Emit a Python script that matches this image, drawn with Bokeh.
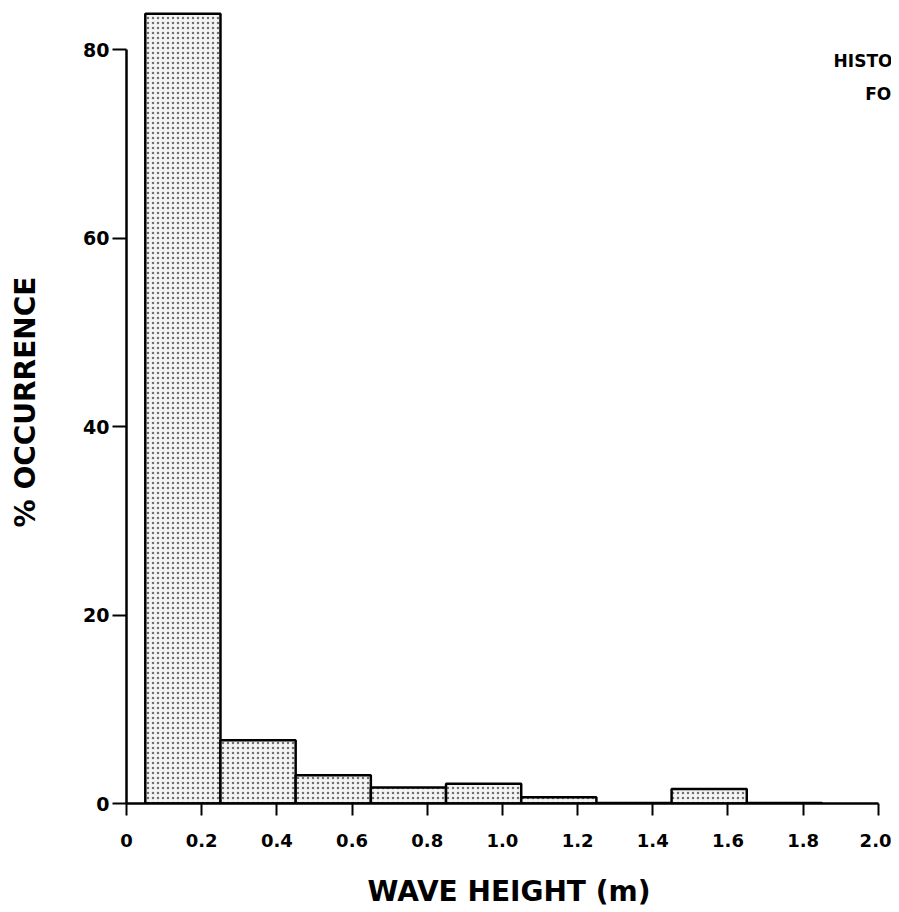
from bokeh.plotting import figure
from bokeh.models import Range1d, FixedTicker
from bokeh.core.properties import value
from bokeh.embed import file_html
from bokeh.resources import INLINE

# ---- data ----
bin_left = [0.05, 0.25, 0.45, 0.65, 0.85, 1.05, 1.25, 1.45, 1.65]
bin_right = [0.25, 0.45, 0.65, 0.85, 1.05, 1.25, 1.45, 1.65, 1.85]
pct_occurrence = [83.8, 6.7, 3.0, 1.7, 2.1, 0.65, 0.05, 1.55, 0.05]

x_ticks = [0, 0.2, 0.4, 0.6, 0.8, 1.0, 1.2, 1.4, 1.6, 1.8, 2.0]
x_tick_labels = ["0", "0.2", "0.4", "0.6", "0.8", "1.0", "1.2", "1.4", "1.6", "1.8", "2.0"]
y_ticks = [0, 20, 40, 60, 80]
y_tick_labels = ["0", "20", "40", "60", "80"]

# visible parts of the (cut-off) annotation in the reference
title_lines = ["HISTO", "FO"]

FONT = "DejaVu Sans"

p = figure(
    width=891, height=910,
    output_backend="svg", toolbar_location=None,
    x_range=Range1d(0, 2.035), y_range=Range1d(0, 85.2),
    min_border_left=126, min_border_right=0, min_border_top=0, min_border_bottom=107,
)
p.outline_line_color = None
p.xgrid.visible = False
p.ygrid.visible = False
p.background_fill_color = "white"
p.border_fill_color = "white"

p.quad(
    left=bin_left, right=bin_right, top=pct_occurrence, bottom=0,
    fill_color="#f4f4f4", line_color="black", line_width=2.5,
    hatch_pattern="dot", hatch_color="#707070", hatch_scale=5, hatch_weight=1,
)

# annotation text
p.text(x=[1.881], y=[78.8], text=[title_lines[0]], text_font=value(FONT),
       text_font_style="bold", text_font_size="17px", text_align="left",
       text_baseline="middle", text_color="black")
p.text(x=[1.965], y=[75.3], text=[title_lines[1]], text_font=value(FONT),
       text_font_style="bold", text_font_size="17px", text_align="left",
       text_baseline="middle", text_color="black")

# x axis
xa = p.xaxis[0]
xa.bounds = (0, 2.0)
xa.ticker = FixedTicker(ticks=x_ticks)
xa.major_label_overrides = {t: l for t, l in zip(x_ticks, x_tick_labels)}
xa.minor_tick_line_color = None
xa.major_tick_in = 0
xa.major_tick_out = 12
xa.major_tick_line_width = 2
xa.axis_line_width = 2.5
xa.major_label_standoff = 18
xa.major_label_text_font = FONT
xa.major_label_text_font_style = "bold"
xa.major_label_text_font_size = "18px"
xa.major_label_text_color = "black"
xa.axis_label = "WAVE HEIGHT (m)"
xa.axis_label_text_font = FONT
xa.axis_label_text_font_style = "bold"
xa.axis_label_text_font_size = "28px"
xa.axis_label_standoff = 25
xa.axis_label_text_color = "black"

# y axis
ya = p.yaxis[0]
ya.bounds = (0, 80)
ya.ticker = FixedTicker(ticks=y_ticks)
ya.major_label_overrides = {t: l for t, l in zip(y_ticks, y_tick_labels)}
ya.minor_tick_line_color = None
ya.major_tick_in = 0
ya.major_tick_out = 14
ya.major_tick_line_width = 2
ya.axis_line_width = 2.5
ya.major_label_standoff = 3
ya.major_label_orientation = "horizontal"
ya.major_label_text_font = FONT
ya.major_label_text_font_style = "bold"
ya.major_label_text_font_size = "19px"
ya.major_label_text_color = "black"
ya.axis_label = "% OCCURRENCE"
ya.axis_label_text_font = FONT
ya.axis_label_text_font_style = "bold"
ya.axis_label_text_font_size = "28px"
ya.axis_label_standoff = 38
ya.axis_label_text_color = "black"

open("out.html", "w").write(file_html(p, INLINE))
